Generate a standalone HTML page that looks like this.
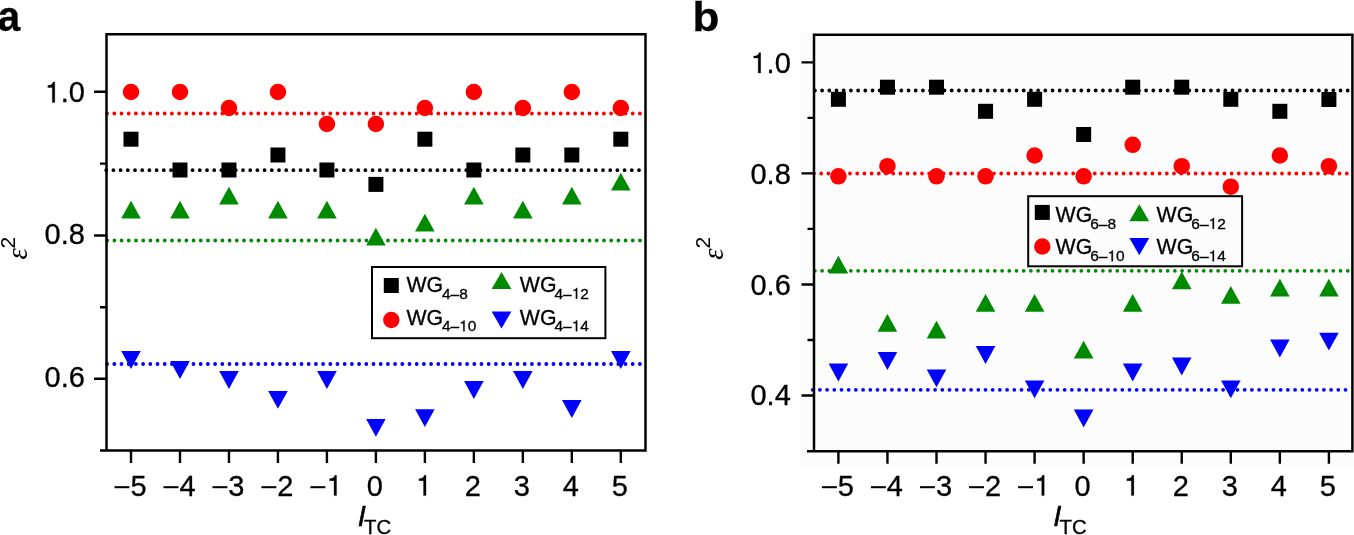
<!DOCTYPE html>
<html><head><meta charset="utf-8"><style>
html,body{margin:0;padding:0;background:#fff;}
body{width:1354px;height:535px;overflow:hidden;font-family:"Liberation Sans", sans-serif;}
svg{display:block;}
</style></head><body>
<svg width="1354" height="535" viewBox="0 0 1354 535" font-family='"Liberation Sans", sans-serif' fill="#000">
<style>text{stroke:#000;stroke-width:0.3px;font-kerning:none;}g.ns text{stroke-width:0;}</style>
<g style="filter:blur(0)">
<line x1="107.1" y1="113.5" x2="642.5" y2="113.5" stroke="#ff0000" stroke-width="3.8" stroke-linecap="round" stroke-dasharray="0 7.2"/>
<line x1="106.2" y1="170.2" x2="642.5" y2="170.2" stroke="#000000" stroke-width="3.8" stroke-linecap="round" stroke-dasharray="0 7.2"/>
<line x1="107.2" y1="240.5" x2="642.5" y2="240.5" stroke="#008a00" stroke-width="3.8" stroke-linecap="round" stroke-dasharray="0 7.2"/>
<line x1="107.1" y1="364" x2="642.5" y2="364" stroke="#0000ff" stroke-width="3.8" stroke-linecap="round" stroke-dasharray="0 7.2"/>
<circle cx="131" cy="92" r="8.25" fill="#ff0000"/>
<circle cx="179.98" cy="92" r="8.25" fill="#ff0000"/>
<circle cx="228.96" cy="108" r="8.25" fill="#ff0000"/>
<circle cx="277.94" cy="92" r="8.25" fill="#ff0000"/>
<circle cx="326.92" cy="124" r="8.25" fill="#ff0000"/>
<circle cx="375.9" cy="124" r="8.25" fill="#ff0000"/>
<circle cx="424.88" cy="108" r="8.25" fill="#ff0000"/>
<circle cx="473.86" cy="92" r="8.25" fill="#ff0000"/>
<circle cx="522.84" cy="108" r="8.25" fill="#ff0000"/>
<circle cx="571.82" cy="92" r="8.25" fill="#ff0000"/>
<circle cx="620.8" cy="108" r="8.25" fill="#ff0000"/>
<rect x="123.5" y="131.7" width="15" height="15" fill="#000000"/>
<rect x="172.48" y="162.5" width="15" height="15" fill="#000000"/>
<rect x="221.46" y="162.5" width="15" height="15" fill="#000000"/>
<rect x="270.44" y="147.5" width="15" height="15" fill="#000000"/>
<rect x="319.42" y="162.5" width="15" height="15" fill="#000000"/>
<rect x="368.4" y="176.9" width="15" height="15" fill="#000000"/>
<rect x="417.38" y="131.7" width="15" height="15" fill="#000000"/>
<rect x="466.36" y="162.5" width="15" height="15" fill="#000000"/>
<rect x="515.34" y="147.5" width="15" height="15" fill="#000000"/>
<rect x="564.32" y="147.5" width="15" height="15" fill="#000000"/>
<rect x="613.3" y="131.7" width="15" height="15" fill="#000000"/>
<path d="M131 200.7L140.8 218.5L121.2 218.5Z" fill="#008a00"/>
<path d="M179.98 200.7L189.78 218.5L170.18 218.5Z" fill="#008a00"/>
<path d="M228.96 186.7L238.76 204.5L219.16 204.5Z" fill="#008a00"/>
<path d="M277.94 200.7L287.74 218.5L268.14 218.5Z" fill="#008a00"/>
<path d="M326.92 200.7L336.72 218.5L317.12 218.5Z" fill="#008a00"/>
<path d="M375.9 227.7L385.7 245.5L366.1 245.5Z" fill="#008a00"/>
<path d="M424.88 213.7L434.68 231.5L415.08 231.5Z" fill="#008a00"/>
<path d="M473.86 186.7L483.66 204.5L464.06 204.5Z" fill="#008a00"/>
<path d="M522.84 200.7L532.64 218.5L513.04 218.5Z" fill="#008a00"/>
<path d="M571.82 186.7L581.62 204.5L562.02 204.5Z" fill="#008a00"/>
<path d="M620.8 172.7L630.6 190.5L611 190.5Z" fill="#008a00"/>
<path d="M121.2 351.1L140.8 351.1L131 368.9Z" fill="#0000ff"/>
<path d="M170.18 361.1L189.78 361.1L179.98 378.9Z" fill="#0000ff"/>
<path d="M219.16 371.1L238.76 371.1L228.96 388.9Z" fill="#0000ff"/>
<path d="M268.14 390.9L287.74 390.9L277.94 408.7Z" fill="#0000ff"/>
<path d="M317.12 371.1L336.72 371.1L326.92 388.9Z" fill="#0000ff"/>
<path d="M366.1 419L385.7 419L375.9 436.8Z" fill="#0000ff"/>
<path d="M415.08 409.3L434.68 409.3L424.88 427.1Z" fill="#0000ff"/>
<path d="M464.06 381.1L483.66 381.1L473.86 398.9Z" fill="#0000ff"/>
<path d="M513.04 371.1L532.64 371.1L522.84 388.9Z" fill="#0000ff"/>
<path d="M562.02 400.1L581.62 400.1L571.82 417.9Z" fill="#0000ff"/>
<path d="M611 351.1L630.6 351.1L620.8 368.9Z" fill="#0000ff"/>
<path d="M106.5 450.5V34.3H645.5V450.5H100" fill="none" stroke="#000" stroke-width="2.5" stroke-linejoin="miter" stroke-linecap="butt"/>
<path d="M131 450.5V463M179.98 450.5V463M228.96 450.5V463M277.94 450.5V463M326.92 450.5V463M375.9 450.5V463M424.88 450.5V463M473.86 450.5V463M522.84 450.5V463M571.82 450.5V463M620.8 450.5V463M106.5 91.7H94M106.5 235.5H94M106.5 378.8H94M106.5 163.6H100M106.5 307.2H100" stroke="#000" stroke-width="2.4" fill="none"/>
<rect x="114.48" y="486.18" width="14.94" height="2.03"/>
<text x="130.4" y="495.6" font-size="29">5</text>
<rect x="163.46" y="486.18" width="14.94" height="2.03"/>
<text x="179.38" y="495.6" font-size="29">4</text>
<rect x="212.44" y="486.18" width="14.94" height="2.03"/>
<text x="228.36" y="495.6" font-size="29">3</text>
<rect x="261.42" y="486.18" width="14.94" height="2.03"/>
<text x="277.34" y="495.6" font-size="29">2</text>
<rect x="310.4" y="486.18" width="14.94" height="2.03"/>
<path d="M334.04 495.6H336.53V475.3H334.73C334.44 477.19 333.43 478.49 329.57 478.69V480.69H334.04Z" stroke="#000" stroke-width="0.3"/>
<text x="366.84" y="495.6" font-size="29">0</text>
<path d="M423.53 495.6H426.02V475.3H424.23C423.94 477.19 422.92 478.49 419.06 478.69V480.69H423.53Z" stroke="#000" stroke-width="0.3"/>
<text x="464.8" y="495.6" font-size="29">2</text>
<text x="513.78" y="495.6" font-size="29">3</text>
<text x="562.76" y="495.6" font-size="29">4</text>
<text x="611.74" y="495.6" font-size="29">5</text>
<path d="M52.3 102.4H54.79V82.1H53C52.71 83.99 51.69 85.29 47.83 85.49V87.49H52.3Z" stroke="#000" stroke-width="0.3"/>
<text x="60.71" y="102.4" font-size="29">.0</text>
<text x="44.59" y="244.4" font-size="29">0.8</text>
<text x="44.59" y="386.6" font-size="29">0.6</text>
<text x="358.5" y="526" font-size="28.2" font-style="italic" style="stroke-width:0.7px">l</text>
<text x="364.1" y="534.3" font-size="20.4">TC</text>
<g transform="translate(27.3 259.9) rotate(-90)" class="ns"><text x="0.3" y="0" font-size="28.8" font-family="Liberation Serif" font-style="italic">ε</text><text x="11.5" y="-12.3" font-size="21">2</text></g>
<text transform="translate(-2.3 30.7) scale(0.95 1)" font-size="42.5" font-weight="bold">a</text>
<rect x="372" y="267" width="233.4" height="71.2" fill="#fff" fill-opacity="0.98" stroke="#000" stroke-width="2"/>
<rect x="383.8" y="278" width="15" height="15" fill="#000000"/>
<circle cx="391.3" cy="320" r="8.2" fill="#ff0000"/>
<path d="M501.5 271.9L511.4 289.1L491.6 289.1Z" fill="#008a00"/>
<path d="M491.6 311.4L511.4 311.4L501.5 328.6Z" fill="#0000ff"/>
<text x="406.4" y="292.2" font-size="21.3">WG</text>
<text x="441.9" y="298.8" font-size="15.5">4–8</text>
<text x="406.4" y="324.8" font-size="21.3">WG</text>
<text x="441.9" y="331.3" font-size="15.5">4–</text>
<path d="M463.26 331.3H464.6V320.45H463.64C463.48 321.46 462.94 322.16 460.88 322.26V323.33H463.26Z" stroke="#000" stroke-width="0.3"/>
<text x="467.76" y="331.3" font-size="15.5">0</text>
<text x="519.8" y="292.2" font-size="21.3">WG</text>
<text x="554.5" y="298.8" font-size="15.5">4–</text>
<path d="M575.86 298.8H577.2V287.95H576.24C576.08 288.96 575.54 289.66 573.48 289.76V290.83H575.86Z" stroke="#000" stroke-width="0.3"/>
<text x="580.36" y="298.8" font-size="15.5">2</text>
<text x="519.8" y="324.8" font-size="21.3">WG</text>
<text x="554.5" y="331.3" font-size="15.5">4–</text>
<path d="M575.86 331.3H577.2V320.45H576.24C576.08 321.46 575.54 322.16 573.48 322.26V323.33H575.86Z" stroke="#000" stroke-width="0.3"/>
<text x="580.36" y="331.3" font-size="15.5">4</text>
<rect x="800" y="33.7" width="554" height="432.3" fill="#fcfcfc"/>
<line x1="814.9" y1="90.5" x2="1349.4" y2="90.5" stroke="#000000" stroke-width="3.8" stroke-linecap="round" stroke-dasharray="0 7.2"/>
<line x1="814" y1="173.5" x2="1349.4" y2="173.5" stroke="#ff0000" stroke-width="3.8" stroke-linecap="round" stroke-dasharray="0 7.2"/>
<line x1="814.9" y1="270.8" x2="1349.4" y2="270.8" stroke="#008a00" stroke-width="3.8" stroke-linecap="round" stroke-dasharray="0 7.2"/>
<line x1="812.7" y1="389.8" x2="1349.4" y2="389.8" stroke="#0000ff" stroke-width="3.8" stroke-linecap="round" stroke-dasharray="0 7.2"/>
<circle cx="838.4" cy="176.3" r="8.25" fill="#ff0000"/>
<circle cx="887.45" cy="166.2" r="8.25" fill="#ff0000"/>
<circle cx="936.5" cy="176.3" r="8.25" fill="#ff0000"/>
<circle cx="985.55" cy="176.3" r="8.25" fill="#ff0000"/>
<circle cx="1034.6" cy="155.5" r="8.25" fill="#ff0000"/>
<circle cx="1083.65" cy="176.3" r="8.25" fill="#ff0000"/>
<circle cx="1132.7" cy="144.8" r="8.25" fill="#ff0000"/>
<circle cx="1181.75" cy="166.2" r="8.25" fill="#ff0000"/>
<circle cx="1230.8" cy="186.7" r="8.25" fill="#ff0000"/>
<circle cx="1279.85" cy="155.5" r="8.25" fill="#ff0000"/>
<circle cx="1328.9" cy="166.2" r="8.25" fill="#ff0000"/>
<rect x="830.9" y="91.8" width="15" height="15" fill="#000000"/>
<rect x="879.95" y="79.7" width="15" height="15" fill="#000000"/>
<rect x="929" y="79.7" width="15" height="15" fill="#000000"/>
<rect x="978.05" y="103.8" width="15" height="15" fill="#000000"/>
<rect x="1027.1" y="91.8" width="15" height="15" fill="#000000"/>
<rect x="1076.15" y="127" width="15" height="15" fill="#000000"/>
<rect x="1125.2" y="79.7" width="15" height="15" fill="#000000"/>
<rect x="1174.25" y="79.7" width="15" height="15" fill="#000000"/>
<rect x="1223.3" y="91.8" width="15" height="15" fill="#000000"/>
<rect x="1272.35" y="103.8" width="15" height="15" fill="#000000"/>
<rect x="1321.4" y="92" width="15" height="15" fill="#000000"/>
<path d="M838.4 255.8L848.2 273.6L828.6 273.6Z" fill="#008a00"/>
<path d="M887.45 313.9L897.25 331.7L877.65 331.7Z" fill="#008a00"/>
<path d="M936.5 320.7L946.3 338.5L926.7 338.5Z" fill="#008a00"/>
<path d="M985.55 293.9L995.35 311.7L975.75 311.7Z" fill="#008a00"/>
<path d="M1034.6 293.9L1044.4 311.7L1024.8 311.7Z" fill="#008a00"/>
<path d="M1083.65 340.7L1093.45 358.5L1073.85 358.5Z" fill="#008a00"/>
<path d="M1132.7 293.9L1142.5 311.7L1122.9 311.7Z" fill="#008a00"/>
<path d="M1181.75 271.5L1191.55 289.3L1171.95 289.3Z" fill="#008a00"/>
<path d="M1230.8 285.9L1240.6 303.7L1221 303.7Z" fill="#008a00"/>
<path d="M1279.85 278.7L1289.65 296.5L1270.05 296.5Z" fill="#008a00"/>
<path d="M1328.9 278.7L1338.7 296.5L1319.1 296.5Z" fill="#008a00"/>
<path d="M828.6 363.6L848.2 363.6L838.4 381.4Z" fill="#0000ff"/>
<path d="M877.65 352.1L897.25 352.1L887.45 369.9Z" fill="#0000ff"/>
<path d="M926.7 369.4L946.3 369.4L936.5 387.2Z" fill="#0000ff"/>
<path d="M975.75 346.1L995.35 346.1L985.55 363.9Z" fill="#0000ff"/>
<path d="M1024.8 380.4L1044.4 380.4L1034.6 398.2Z" fill="#0000ff"/>
<path d="M1073.85 409.6L1093.45 409.6L1083.65 427.4Z" fill="#0000ff"/>
<path d="M1122.9 363.6L1142.5 363.6L1132.7 381.4Z" fill="#0000ff"/>
<path d="M1171.95 357.6L1191.55 357.6L1181.75 375.4Z" fill="#0000ff"/>
<path d="M1221 380.4L1240.6 380.4L1230.8 398.2Z" fill="#0000ff"/>
<path d="M1270.05 339.6L1289.65 339.6L1279.85 357.4Z" fill="#0000ff"/>
<path d="M1319.1 332.8L1338.7 332.8L1328.9 350.6Z" fill="#0000ff"/>
<path d="M814 451.2V34.7H1352.4V451.2H807" fill="none" stroke="#000" stroke-width="2.5" stroke-linejoin="miter" stroke-linecap="butt"/>
<path d="M838.4 451.2V463.7M887.45 451.2V463.7M936.5 451.2V463.7M985.55 451.2V463.7M1034.6 451.2V463.7M1083.65 451.2V463.7M1132.7 451.2V463.7M1181.75 451.2V463.7M1230.8 451.2V463.7M1279.85 451.2V463.7M1328.9 451.2V463.7M814 62.4H801.5M814 173.4H801.5M814 284.5H801.5M814 395.5H801.5M814 117.9H807.5M814 228.9H807.5M814 340H807.5" stroke="#000" stroke-width="2.4" fill="none"/>
<rect x="821.88" y="486.18" width="14.94" height="2.03"/>
<text x="837.8" y="495.6" font-size="29">5</text>
<rect x="870.93" y="486.18" width="14.94" height="2.03"/>
<text x="886.85" y="495.6" font-size="29">4</text>
<rect x="919.98" y="486.18" width="14.94" height="2.03"/>
<text x="935.9" y="495.6" font-size="29">3</text>
<rect x="969.03" y="486.18" width="14.94" height="2.03"/>
<text x="984.95" y="495.6" font-size="29">2</text>
<rect x="1018.08" y="486.18" width="14.94" height="2.03"/>
<path d="M1041.72 495.6H1044.21V475.3H1042.41C1042.12 477.19 1041.11 478.49 1037.25 478.69V480.69H1041.72Z" stroke="#000" stroke-width="0.3"/>
<text x="1074.59" y="495.6" font-size="29">0</text>
<path d="M1131.35 495.6H1133.84V475.3H1132.05C1131.76 477.19 1130.74 478.49 1126.88 478.69V480.69H1131.35Z" stroke="#000" stroke-width="0.3"/>
<text x="1172.69" y="495.6" font-size="29">2</text>
<text x="1221.74" y="495.6" font-size="29">3</text>
<text x="1270.79" y="495.6" font-size="29">4</text>
<text x="1319.84" y="495.6" font-size="29">5</text>
<path d="M758.2 73H760.69V52.7H758.9C758.61 54.59 757.59 55.89 753.73 56.09V58.09H758.2Z" stroke="#000" stroke-width="0.3"/>
<text x="766.61" y="73" font-size="29">.0</text>
<text x="750.49" y="184" font-size="29">0.8</text>
<text x="750.49" y="295.2" font-size="29">0.6</text>
<text x="750.49" y="405.3" font-size="29">0.4</text>
<text x="1054" y="526" font-size="28.2" font-style="italic" style="stroke-width:0.7px">l</text>
<text x="1059.6" y="534.3" font-size="20.4">TC</text>
<g transform="translate(722.7 260.0) rotate(-90)" class="ns"><text x="0.3" y="0" font-size="28.8" font-family="Liberation Serif" font-style="italic">ε</text><text x="11.5" y="-12.3" font-size="21">2</text></g>
<text transform="translate(692.6 30.7) scale(1.1 1)" font-size="40" font-weight="bold">b</text>
<rect x="1028.2" y="196.2" width="213.9" height="70.1" fill="#fcfcfc" fill-opacity="0.98" stroke="#000" stroke-width="2"/>
<rect x="1034.8" y="204.9" width="15" height="15" fill="#000000"/>
<circle cx="1042.3" cy="246.5" r="8.2" fill="#ff0000"/>
<path d="M1139.3 204.15L1149.2 221.35L1129.4 221.35Z" fill="#008a00"/>
<path d="M1129.4 238L1149.2 238L1139.3 255.2Z" fill="#0000ff"/>
<text x="1055.6" y="222" font-size="21.3">WG</text>
<text x="1090.2" y="228.8" font-size="15.5">6–8</text>
<text x="1055.6" y="254.2" font-size="21.3">WG</text>
<text x="1090.2" y="261.3" font-size="15.5">6–</text>
<path d="M1111.56 261.3H1112.9V250.45H1111.94C1111.78 251.46 1111.24 252.16 1109.18 252.26V253.33H1111.56Z" stroke="#000" stroke-width="0.3"/>
<text x="1116.06" y="261.3" font-size="15.5">0</text>
<text x="1156.6" y="222" font-size="21.3">WG</text>
<text x="1191.3" y="228.8" font-size="15.5">6–</text>
<path d="M1212.66 228.8H1214V217.95H1213.04C1212.88 218.96 1212.34 219.66 1210.28 219.76V220.83H1212.66Z" stroke="#000" stroke-width="0.3"/>
<text x="1217.16" y="228.8" font-size="15.5">2</text>
<text x="1156.6" y="254.2" font-size="21.3">WG</text>
<text x="1191.3" y="261.3" font-size="15.5">6–</text>
<path d="M1212.66 261.3H1214V250.45H1213.04C1212.88 251.46 1212.34 252.16 1210.28 252.26V253.33H1212.66Z" stroke="#000" stroke-width="0.3"/>
<text x="1217.16" y="261.3" font-size="15.5">4</text>
</g>
</svg>
</body></html>
